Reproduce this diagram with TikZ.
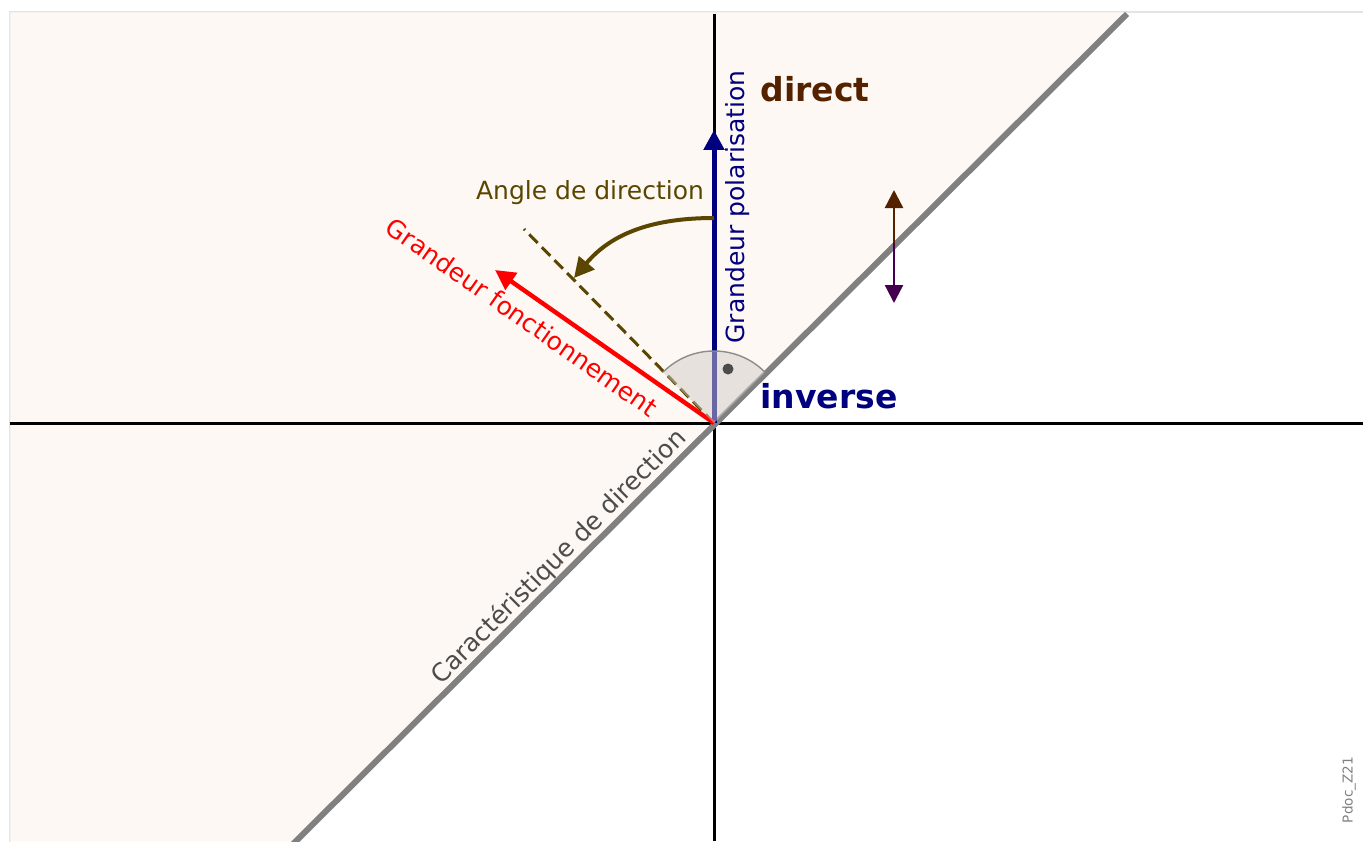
\documentclass[tikz,border=0pt]{standalone}
\usepackage{fontspec}
\setmainfont{DejaVu Sans}
\usetikzlibrary{arrows.meta}

\definecolor{polblue}{HTML}{00007F}
\definecolor{dirbrown}{HTML}{552200}
\definecolor{invpurple}{HTML}{44004F}
\definecolor{angleolive}{HTML}{5A4600}
\definecolor{zonefill}{HTML}{FDF8F4}
\definecolor{framegray}{HTML}{E4E4E4}
\definecolor{chargray}{HTML}{808080}
\definecolor{sectorgray}{HTML}{D0CCC8}

\begin{document}
\begin{tikzpicture}[
    x=0.5pt, y=0.5pt,
    font=\fontsize{12.5}{15}\selectfont,
    >={Triangle[length=10pt, width=10pt]},
    axis/.style={draw=black, line width=1.5pt},
    vec/.style={line width=2.5pt, ->},
    shiftarrow/.style={line width=1.2pt, -{Triangle[length=9pt, width=9pt]}},
    lbl/.style={inner sep=0pt, anchor=center},
    bigbold/.style={lbl, font=\fontsize{16.5}{20}\selectfont\bfseries}
]
    \useasboundingbox (-714,-418) rectangle (649,423);

    % --- frame and operating zone ---
    \draw[framegray, line width=1pt] (-704,-440) rectangle (670,411);
    \fill[zonefill] (-703.5,410.5) -- (410.5,410.5) -- (-418,-418) -- (-703.5,-418) -- cycle;

    % --- axes ---
    \coordinate (O) at (0,0);
    \coordinate (xl) at (-704,0);
    \coordinate (xr) at (649,0);
    \coordinate (yt) at (0,409);
    \coordinate (yb) at (0,-418);
    \draw[axis] (xl) -- (xr);
    \draw[axis] (yt) -- (yb);

    % --- characteristic line ---
    \coordinate (charlo) at (-430,-430);
    \coordinate (charhi) at (413,409);
    \draw[chargray, line width=3pt] (charlo) -- (charhi);

    % --- vectors ---
    \coordinate (poltip) at (0,293);
    \coordinate (fcttip) at (-219,153);
    \coordinate (dirend) at (-190,194);
    \draw[vec, polblue] (O) -- (poltip);
    \draw[angleolive, line width=1.5pt, dash pattern=on 6pt off 3pt] (O) -- (dirend);
    \draw[vec, red, line width=2.2pt] (O) -- (fcttip);

    % --- right angle sector ---
    \fill[sectorgray, opacity=0.5] (O) -- (45:72) arc (45:135:72) -- cycle;
    \draw[gray!90, line width=0.7pt] (45:72) arc (45:135:72);
    \fill[black!70] (14,54) circle (5.5);

    % --- angle arrow ---
    \coordinate (arcstart) at (0,205);
    \coordinate (arcend) at (-140,145);
    \draw[angleolive, line width=2pt, ->] (arcstart) to[out=180, in=50] (arcend);

    % --- shift arrows ---
    \coordinate (shiftmid) at (180,180);
    \coordinate (shiftup) at (180,233);
    \coordinate (shiftdn) at (180,120);
    \draw[shiftarrow, dirbrown] (shiftmid) -- (shiftup);
    \draw[shiftarrow, invpurple] (shiftmid) -- (shiftdn);

    % --- labels ---
    \node[lbl, text=angleolive] (anglelbl) at (-124,230) {Angle de direction};
    \node[lbl, text=red, rotate=-35] (fctlbl) at (-192,106) {Grandeur fonctionnement};
    \node[lbl, text=polblue, rotate=90] (pollbl) at (24,216) {Grandeur polarisation};
    \node[lbl, text=black!70, rotate=45] (charlbl) at (-155,-134) {Caractéristique de direction};
    \node[bigbold, text=dirbrown] (directlbl) at (101,334) {direct};
    \node[bigbold, text=polblue] (inverselbl) at (115,27) {inverse};
    \node[lbl, text=gray, rotate=90, font=\fontsize{6.8}{8}\selectfont] (doclbl) at (635,-367) {Pdoc\_Z21};
\end{tikzpicture}
\end{document}
